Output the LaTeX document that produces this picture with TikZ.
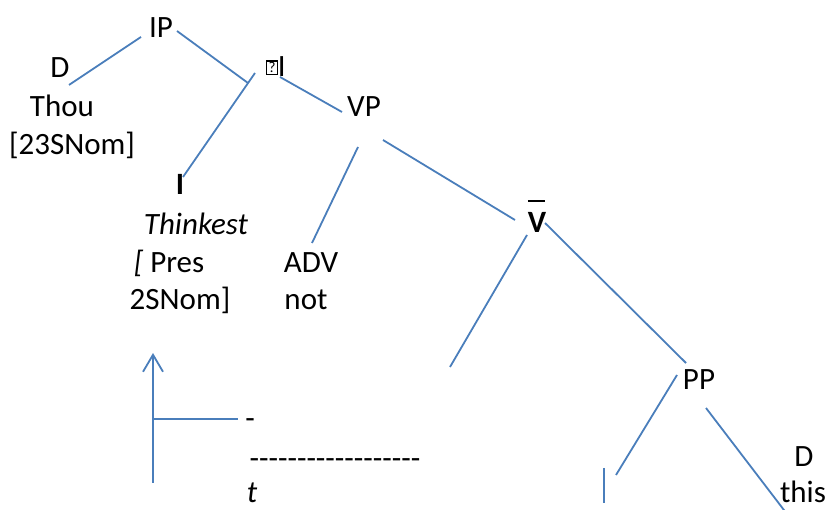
\documentclass[tikz,border=0pt]{standalone}
\usepackage{fontspec}
\setmainfont{Carlito}
\usetikzlibrary{calc,arrows.meta}
\definecolor{treeblue}{RGB}{74,126,187}
\newcommand{\hy}{\mbox{-}}
\newcommand{\qbox}{\raisebox{4pt}{\setlength{\fboxsep}{1.2pt}\setlength{\fboxrule}{1.1pt}\fbox{\fontsize{15}{15}\selectfont ?}}}
\newcommand{\barV}{\rlap{\raisebox{31pt}{\rule{17pt}{2.4pt}}}\textbf{V}}

\begin{document}
\begin{tikzpicture}[x=1pt, y=-1pt,
    lbl/.style={anchor=base, inner sep=0pt, font=\fontsize{31}{38}\selectfont},
    branch/.style={draw=treeblue, line width=1.8pt},
    move/.style={branch, -{Straight Barb[length=17pt,width=20pt]}}]
  \useasboundingbox (0,0) rectangle (825,510);

  \node[lbl] (ip)    at (161, 38)  {IP};
  \node[lbl] (d)     at (60, 78)   {D};
  \node[lbl] (thou)  at (62, 117)  {Thou};
  \node[lbl] (case)  at (72, 155)  {[23SNom]};

  \node[lbl] (ibar)  at (276, 77)  {\qbox I};
  \node[lbl] (vp)    at (364, 117) {VP};

  \node[lbl] (infl)  at (180, 195) {\textbf{I}};
  \node[lbl] (verb)  at (196, 235) {\textit{Thinkest}};
  \node[lbl] (pres)  at (169, 273) {\textit{[} Pres};
  \node[lbl] (agr)   at (180, 310) {2SNom]};

  \node[lbl] (adv)   at (311, 273) {ADV};
  \node[lbl] (neg)   at (306, 310) {not};

  \node[lbl] (vbar)  at (537, 233) {\barV};
  \node[lbl] (pp)    at (699, 390) {PP};
  \node[lbl] (dthis) at (804, 467) {D};
  \node[lbl] (this)  at (803, 503) {this};

  \node[lbl] (hy)    at (250, 429) {-};
  \node[lbl] (dash)  at (335, 468) {\hy\hy\hy\hy\hy\hy\hy\hy\hy\hy\hy\hy\hy\hy\hy\hy\hy\hy};
  \node[lbl] (trace) at (252, 502) {\textit{t}};

  \coordinate (vleft)   at (450, 367);
  \coordinate (pleft)   at (616, 475);
  \coordinate (pright)  at (787, 514);
  \coordinate (stubtop) at (604, 468);
  \coordinate (stubbot) at (604, 503);
  \coordinate (foot)    at (153, 483);
  \coordinate (elbow)   at (153, 419);
  \coordinate (tip)     at (153, 353);

  \draw[branch] ($(ip.base)+(-20,-1)$) -- ($(d.base)+(9,7)$);
  \draw[branch] ($(ip.base)+(16,-7)$) -- ($(ibar.base)+(-28,6)$);
  \draw[branch] ($(ibar.base)+(-21,-4)$) -- ($(infl.base)+(3,-18)$);
  \draw[branch] ($(ibar.base)+(4,0)$) -- ($(vp.base)+(-22,-5)$);

  \draw[branch] ($(vp.base)+(-6,30)$) -- ($(adv.base)+(1,-30)$);
  \draw[branch] ($(vp.base)+(19,23)$) -- ($(vbar.base)+(-22,-13)$);

  \draw[branch] ($(vbar.base)+(-10,2)$) -- (vleft);
  \draw[branch] ($(vbar.base)+(8,-10)$) -- ($(pp.base)+(-13,-27)$);

  \draw[branch] ($(pp.base)+(-22,-15)$) -- (pleft);
  \draw[branch] ($(pp.base)+(7,18)$) -- (pright);
  \draw[branch] (stubtop) -- (stubbot);

  \draw[move] (foot) -- (tip);
  \draw[branch] (elbow) -- ($(hy.base)+(-12,-10)$);
\end{tikzpicture}
\end{document}
